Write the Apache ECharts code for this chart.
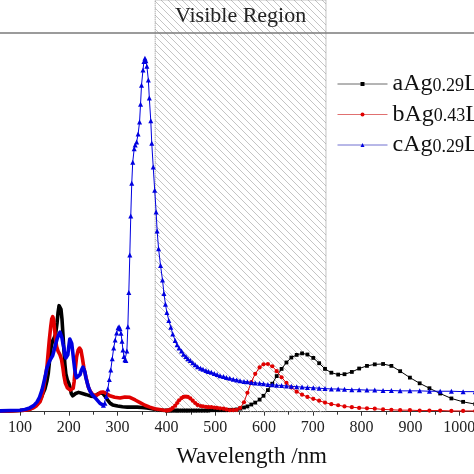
<!DOCTYPE html>
<html><head><meta charset="utf-8">
<script src="https://cdn.jsdelivr.net/npm/echarts@6/dist/echarts.min.js"></script>
<style>html,body{margin:0;padding:0;background:#fff}#c{width:474px;height:474px}</style>
</head><body><div id="c"></div>
<script>
// ---- data (wavelength nm, absorbance normalised so the top frame = 1) ----
const seriesNames = ['aAg0.29L', 'bAg0.43L', 'cAg0.29L'];
const visibleRegion = [377, 727];
const xTicks = [100, 200, 300, 400, 500, 600, 700, 800, 900, 1000];

const tailWl = [401,405,409,413,418,422,426,431,435,440,444,449,454,459,464,470,475,481,486,492,498,504,510,517,523,530,537,544,551,559,566,574,582,591,599,608,617,626,636,646,656,667,678,689,701,713,725,738,752,765,780,795,811,827,844,861,879,899,919,939,961,984,1008,1033];

const blackHeadWl = [55,80,100,110,120,128,135,141,146,151,155,158,161,164,167,170,173,176,178,180,182,184,186,188,190,192,194,197,200,203,205,208,211,214,217,220,224,228,232,236,240,245,250,255,260,265,270,275,280,285,290,300,310,320,330,340,350,360,370,380,390,401];
const blackHead = [.002,.002,.003,.004,.007,.012,.020,.031,.045,.060,.080,.102,.140,.172,.188,.195,.205,.235,.262,.280,.285,.270,.245,.205,.163,.125,.100,.084,.075,.062,.048,.042,.043,.048,.052,.051,.049,.048,.047,.045,.043,.041,.040,.043,.047,.050,.048,.040,.030,.022,.018,.015,.013,.012,.012,.012,.011,.010,.008,.005,.004,.003];
const blackTail = [.003,.003,.003,.003,.003,.003,.003,.003,.003,.003,.003,.003,.003,.003,.003,.003,.003,.003,.003,.004,.004,.004,.004,.004,.004,.005,.005,.006,.008,.011,.014,.019,.024,.032,.042,.057,.074,.094,.113,.130,.143,.150,.154,.151,.142,.128,.113,.103,.098,.099,.105,.114,.121,.125,.126,.121,.107,.090,.075,.062,.048,.035,.026,.020];

const redHeadWl = [55,80,100,110,120,127,134,141,145,148,151,155,158,160,163,165,167,169,171,173,175,178,182,185,188,190,193,197,200,203,206,209,211,213,216,219,222,225,228,231,235,240,244,248,254,260,265,270,276,284,294,305,315,325,336,346,356,366,376,386,395,401];
const redHead = [.002,.002,.003,.004,.006,.010,.016,.026,.040,.057,.085,.115,.160,.189,.225,.245,.251,.243,.215,.190,.172,.160,.150,.138,.115,.095,.075,.063,.060,.057,.057,.062,.080,.110,.145,.162,.168,.162,.140,.115,.092,.065,.054,.047,.042,.046,.051,.052,.049,.042,.038,.036,.039,.038,.031,.024,.017,.012,.008,.006,.004,.003];
const redTail = [.003,.004,.006,.010,.016,.023,.030,.036,.039,.040,.039,.035,.029,.023,.018,.015,.014,.013,.012,.012,.011,.010,.009,.008,.006,.004,.004,.005,.010,.025,.050,.078,.100,.117,.125,.126,.120,.107,.091,.076,.064,.053,.045,.039,.034,.029,.024,.020,.017,.014,.012,.010,.009,.008,.006,.005,.004,.004,.003,.003,.003,.002,.002,.002];

const blueHeadWl = [55,80,100,110,120,128,135,140,145,149,152,155,158,161,164,167,170,173,176,179,182,184,186,188,190,192,194,196,198,200,202,204,206,208,210,212,214,216,218,220,223,226,229,231,233,235,238,241,244,248,252,256,260,264,268,271];
const blueHead = [.002,.003,.004,.006,.010,.016,.026,.038,.057,.078,.095,.115,.125,.135,.140,.148,.163,.178,.192,.203,.210,.208,.195,.180,.168,.150,.142,.143,.150,.172,.192,.195,.180,.158,.135,.113,.098,.090,.088,.090,.098,.110,.118,.115,.105,.090,.075,.062,.053,.045,.040,.034,.028,.022,.018,.017];
const blueMidWl = [271,274,277,280,283,286,289,292,295,298,301,303,305,307,309,311,313,315,317,319,321,323,325,327,329,331,334,336,339,342,345,347,349,352,354,356,358,360,363,365,368,370,373,376,379,381,384,388,392,395,398];
const blueMid = [.017,.022,.040,.060,.085,.110,.140,.168,.189,.208,.222,.224,.219,.207,.186,.163,.146,.137,.135,.160,.224,.315,.414,.517,.603,.659,.694,.704,.712,.733,.765,.812,.862,.902,.925,.933,.927,.912,.876,.828,.768,.709,.646,.585,.527,.477,.430,.386,.348,.312,.284];
const blueTail = [.262,.241,.223,.205,.188,.177,.168,.160,.152,.146,.140,.135,.129,.124,.119,.115,.112,.109,.106,.104,.101,.098,.095,.093,.090,.088,.086,.084,.082,.080,.079,.077,.076,.075,.074,.072,.071,.070,.069,.068,.067,.066,.065,.064,.063,.062,.061,.060,.060,.059,.058,.058,.057,.057,.056,.056,.055,.055,.055,.054,.054,.054,.053,.053];

// ---- build ----
const zip = (w, v) => w.map((x, i) => [x, v[i]]);
const serif = 'Liberation Serif';
const colors = ['#000000', '#e00000', '#0000e0'];
const legendLine = ['#6a6a6a', '#e07070', '#7070d0'];

const hatch = document.createElement('canvas');
hatch.width = 7; hatch.height = 7;
const hc = hatch.getContext('2d');
hc.strokeStyle = '#c4c4c4'; hc.lineWidth = 1;
for (const o of [-7, 0, 7]) { hc.beginPath(); hc.moveTo(o, 0); hc.lineTo(o + 7, 7); hc.stroke(); }

const tails = [zip(tailWl, blackTail), zip(tailWl, redTail), zip(blueMidWl, blueMid).concat(zip(tailWl, blueTail))];
const heads = [zip(blackHeadWl, blackHead), zip(redHeadWl, redHead), zip(blueHeadWl, blueHead)];
const symbols = ['rect', 'circle', 'triangle'];
const sizes = [3.8, 4.2, 5];

const series = [];
tails.forEach((d, i) => {
  const s = {
    name: seriesNames[i], type: 'line', data: d, symbol: symbols[i], symbolSize: sizes[i],
    showAllSymbol: true, lineStyle: { width: 1, color: colors[i] }, itemStyle: { color: colors[i] },
    z: 3 + i, silent: true
  };
  if (i === 0) {
    s.markArea = {
      silent: true,
      itemStyle: { color: { image: hatch, repeat: 'repeat' }, borderColor: '#8a8a8a', borderWidth: 1, borderType: 'dotted' },
      label: { show: true, position: 'insideTop', distance: 6, formatter: 'Visible Region', fontFamily: serif, fontSize: 22, color: '#222' },
      data: [[{ xAxis: visibleRegion[0] }, { xAxis: visibleRegion[1] }]]
    };
    s.markLine = {
      silent: true, symbol: ['none', 'none'], label: { show: false },
      lineStyle: { color: '#7a7a7a', width: 1.5, type: 'solid' },
      data: [{ yAxis: 1 }]
    };
  }
  series.push(s);
});
heads.forEach((d, i) => {
  series.push({
    name: seriesNames[i], type: 'line', data: d, symbol: 'none', showSymbol: false,
    lineStyle: { width: 3.6, color: colors[i], join: 'round' }, itemStyle: { color: colors[i] },
    z: 3 + i, silent: true
  });
});

const chart = echarts.init(document.getElementById('c'), null, { renderer: 'canvas' });
chart.setOption({
  animation: false,
  backgroundColor: '#fff',
  grid: { left: -28.8, right: -34, top: 0, bottom: 62.3, containLabel: false, outerBoundsMode: 'none' },
  legend: {
    orient: 'vertical', left: 337, top: 72, padding: 0, itemWidth: 50, itemHeight: 5, itemGap: 6.5,
    data: seriesNames.map((n, i) => ({ name: n, lineStyle: { color: legendLine[i], width: 1 } })),
    formatter: n => n.replace(/(\d\.\d+)/, '{s|$1}'),
    textStyle: {
      fontFamily: serif, fontSize: 24, color: '#111', lineHeight: 22,
      rich: { s: { fontFamily: serif, fontSize: 18, color: '#111', lineHeight: 22, verticalAlign: 'bottom' } }
    }
  },
  xAxis: {
    type: 'value', min: 0, max: 1100, interval: 100,
    axisLine: { show: true, onZero: false, lineStyle: { color: '#333', width: 1 } },
    axisTick: { show: true, length: 4, lineStyle: { color: '#333' } },
    minorTick: { show: true, splitNumber: 2, length: 3, lineStyle: { color: '#333' } },
    splitLine: { show: false },
    axisLabel: {
      fontFamily: serif, fontSize: 16, color: '#222', margin: 8,
      formatter: v => (xTicks.indexOf(v) >= 0 ? String(v) : '')
    },
    name: 'Wavelength /nm', nameLocation: 'middle', nameGap: 34,
    nameTextStyle: { fontFamily: serif, fontSize: 23, color: '#111', padding: [0, 0, 0, 24] }
  },
  yAxis: { type: 'value', min: 0, max: 1.0871, show: false },
  series: series
});
</script></body></html>
